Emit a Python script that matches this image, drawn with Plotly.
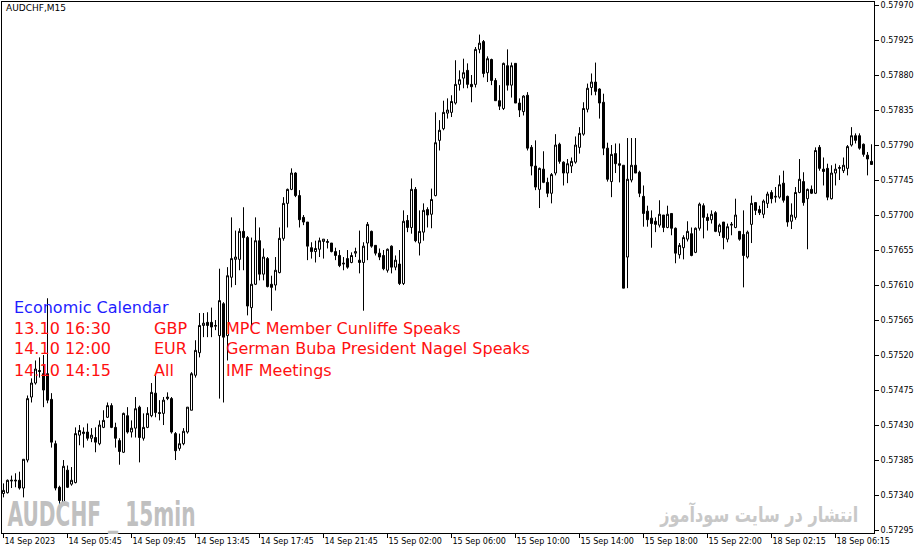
import plotly.graph_objects as go

# ---------------- data (AUDCHF, M15) ----------------
opens = [
 0.57342,0.57343,0.57358,0.57358,0.57359,0.57349,0.57385,0.57466,0.57484,0.57500,
 0.57496,0.57496,0.57463,0.57406,0.57350,0.57331,0.57372,0.57354,0.57356,0.57417,
 0.57419,0.57421,0.57413,0.57414,0.57406,0.57427,0.57440,0.57455,0.57427,0.57410,
 0.57395,0.57442,0.57421,0.57426,0.57453,0.57413,0.57427,0.57442,0.57471,0.57446,
 0.57445,0.57464,0.57464,0.57419,0.57400,0.57406,0.57421,0.57449,0.57494,0.57523,
 0.57558,0.57562,0.57562,0.57557,0.57545,0.57586,0.57545,0.57620,0.57643,0.57643,
 0.57679,0.57671,0.57581,0.57611,0.57667,0.57624,0.57644,0.57611,0.57610,0.57626,
 0.57670,0.57715,0.57733,0.57754,0.57725,0.57697,0.57691,0.57658,0.57653,0.57656,
 0.57666,0.57666,0.57664,0.57653,0.57648,0.57637,0.57644,0.57639,0.57651,0.57642,
 0.57639,0.57664,0.57679,0.57661,0.57651,0.57648,0.57629,0.57660,0.57633,0.57637,
 0.57612,0.57693,0.57684,0.57733,0.57664,0.57678,0.57707,0.57701,0.57725,0.57796,
 0.57811,0.57831,0.57832,0.57844,0.57868,0.57876,0.57886,0.57868,0.57868,0.57913,
 0.57923,0.57883,0.57900,0.57873,0.57847,0.57837,0.57892,0.57867,0.57895,0.57844,
 0.57833,0.57854,0.57787,0.57763,0.57733,0.57759,0.57742,0.57728,0.57754,0.57791,
 0.57768,0.57754,0.57763,0.57768,0.57787,0.57804,0.57836,0.57864,0.57871,0.57862,
 0.57845,0.57786,0.57743,0.57779,0.57766,0.57764,0.57646,0.57745,0.57764,0.57755,
 0.57724,0.57705,0.57696,0.57692,0.57687,0.57700,0.57684,0.57702,0.57683,0.57649,
 0.57658,0.57669,0.57676,0.57652,0.57683,0.57712,0.57697,0.57694,0.57703,0.57678,
 0.57691,0.57669,0.57687,0.57684,0.57679,0.57675,0.57646,0.57688,0.57716,0.57707,
 0.57701,0.57715,0.57729,0.57723,0.57723,0.57741,0.57724,0.57692,0.57697,0.57729,
 0.57743,0.57721,0.57733,0.57728,0.57787,0.57759,0.57760,0.57721,0.57754,0.57760,
 0.57757,0.57760,0.57790,0.57802,0.57802,0.57791,0.57777,0.57769]

highs = [
 0.57355,0.57360,0.57365,0.57368,0.57370,0.57386,0.57468,0.57490,0.57513,0.57517,
 0.57520,0.57593,0.57471,0.57410,0.57352,0.57385,0.57378,0.57376,0.57427,0.57430,
 0.57427,0.57432,0.57426,0.57427,0.57436,0.57449,0.57459,0.57458,0.57433,0.57413,
 0.57446,0.57453,0.57436,0.57466,0.57455,0.57445,0.57453,0.57484,0.57494,0.57462,
 0.57466,0.57472,0.57466,0.57421,0.57419,0.57426,0.57453,0.57498,0.57539,0.57574,
 0.57574,0.57575,0.57581,0.57565,0.57631,0.57588,0.57633,0.57697,0.57680,0.57683,
 0.57710,0.57673,0.57671,0.57697,0.57684,0.57657,0.57646,0.57622,0.57646,0.57684,
 0.57723,0.57734,0.57760,0.57755,0.57732,0.57700,0.57691,0.57665,0.57667,0.57671,
 0.57669,0.57669,0.57664,0.57658,0.57655,0.57646,0.57655,0.57652,0.57658,0.57680,
 0.57665,0.57691,0.57680,0.57661,0.57657,0.57655,0.57657,0.57661,0.57648,0.57655,
 0.57706,0.57700,0.57747,0.57736,0.57706,0.57715,0.57710,0.57734,0.57832,0.57822,
 0.57847,0.57850,0.57854,0.57899,0.57886,0.57901,0.57895,0.57880,0.57916,0.57932,
 0.57925,0.57904,0.57901,0.57876,0.57867,0.57896,0.57913,0.57896,0.57895,0.57850,
 0.57854,0.57858,0.57790,0.57796,0.57761,0.57782,0.57748,0.57754,0.57804,0.57793,
 0.57769,0.57772,0.57774,0.57801,0.57813,0.57845,0.57869,0.57882,0.57896,0.57863,
 0.57856,0.57793,0.57790,0.57792,0.57792,0.57764,0.57799,0.57799,0.57799,0.57757,
 0.57738,0.57712,0.57706,0.57697,0.57719,0.57700,0.57712,0.57702,0.57684,0.57664,
 0.57674,0.57692,0.57684,0.57684,0.57716,0.57715,0.57702,0.57706,0.57705,0.57689,
 0.57691,0.57689,0.57691,0.57721,0.57679,0.57706,0.57680,0.57725,0.57716,0.57712,
 0.57720,0.57730,0.57732,0.57736,0.57751,0.57757,0.57725,0.57715,0.57736,0.57772,
 0.57755,0.57734,0.57738,0.57787,0.57790,0.57774,0.57766,0.57764,0.57766,0.57764,
 0.57774,0.57790,0.57813,0.57805,0.57805,0.57792,0.57781,0.57791]

lows = [
 0.57337,0.57342,0.57349,0.57350,0.57347,0.57337,0.57382,0.57459,0.57482,0.57491,
 0.57453,0.57458,0.57401,0.57346,0.57320,0.57329,0.57349,0.57352,0.57355,0.57404,
 0.57401,0.57410,0.57408,0.57395,0.57404,0.57426,0.57439,0.57426,0.57401,0.57379,
 0.57394,0.57419,0.57414,0.57414,0.57382,0.57410,0.57426,0.57440,0.57440,0.57436,
 0.57430,0.57462,0.57419,0.57385,0.57397,0.57404,0.57419,0.57449,0.57491,0.57517,
 0.57543,0.57543,0.57543,0.57552,0.57464,0.57459,0.57513,0.57607,0.57610,0.57629,
 0.57629,0.57571,0.57558,0.57610,0.57616,0.57616,0.57607,0.57577,0.57603,0.57625,
 0.57667,0.57684,0.57732,0.57723,0.57684,0.57687,0.57642,0.57644,0.57639,0.57646,
 0.57644,0.57657,0.57652,0.57642,0.57633,0.57629,0.57631,0.57638,0.57646,0.57625,
 0.57577,0.57642,0.57658,0.57648,0.57642,0.57629,0.57626,0.57625,0.57629,0.57610,
 0.57610,0.57678,0.57676,0.57665,0.57648,0.57667,0.57684,0.57683,0.57724,0.57783,
 0.57809,0.57824,0.57826,0.57842,0.57860,0.57863,0.57863,0.57845,0.57864,0.57908,
 0.57877,0.57871,0.57867,0.57847,0.57835,0.57835,0.57860,0.57851,0.57844,0.57826,
 0.57828,0.57783,0.57751,0.57732,0.57709,0.57741,0.57723,0.57715,0.57751,0.57766,
 0.57738,0.57741,0.57754,0.57766,0.57779,0.57802,0.57832,0.57854,0.57854,0.57824,
 0.57777,0.57743,0.57723,0.57754,0.57742,0.57606,0.57606,0.57742,0.57754,0.57723,
 0.57685,0.57685,0.57658,0.57678,0.57684,0.57678,0.57683,0.57674,0.57638,0.57644,
 0.57643,0.57666,0.57647,0.57651,0.57680,0.57670,0.57680,0.57689,0.57678,0.57673,
 0.57656,0.57665,0.57674,0.57683,0.57667,0.57607,0.57644,0.57664,0.57700,0.57700,
 0.57696,0.57709,0.57715,0.57716,0.57721,0.57716,0.57685,0.57682,0.57694,0.57728,
 0.57712,0.57656,0.57727,0.57727,0.57757,0.57738,0.57719,0.57720,0.57738,0.57745,
 0.57754,0.57751,0.57788,0.57792,0.57784,0.57775,0.57751,0.57765]

closes = [
 0.57346,0.57359,0.57359,0.57359,0.57349,0.57386,0.57464,0.57484,0.57502,0.57499,
 0.57475,0.57462,0.57408,0.57349,0.57333,0.57377,0.57350,0.57359,0.57419,0.57423,
 0.57421,0.57413,0.57417,0.57408,0.57430,0.57436,0.57455,0.57427,0.57413,0.57396,
 0.57445,0.57421,0.57426,0.57451,0.57414,0.57427,0.57445,0.57472,0.57446,0.57445,
 0.57462,0.57466,0.57421,0.57397,0.57406,0.57422,0.57453,0.57496,0.57526,0.57558,
 0.57561,0.57558,0.57556,0.57558,0.57590,0.57543,0.57622,0.57644,0.57646,0.57679,
 0.57671,0.57583,0.57611,0.57667,0.57624,0.57646,0.57608,0.57607,0.57629,0.57670,
 0.57715,0.57733,0.57754,0.57725,0.57694,0.57691,0.57660,0.57653,0.57657,0.57667,
 0.57669,0.57665,0.57653,0.57648,0.57635,0.57638,0.57633,0.57648,0.57653,0.57639,
 0.57660,0.57688,0.57660,0.57651,0.57646,0.57631,0.57656,0.57633,0.57642,0.57612,
 0.57692,0.57684,0.57733,0.57667,0.57679,0.57706,0.57700,0.57720,0.57793,0.57809,
 0.57832,0.57835,0.57846,0.57868,0.57874,0.57883,0.57868,0.57865,0.57913,0.57921,
 0.57882,0.57901,0.57873,0.57847,0.57840,0.57895,0.57867,0.57892,0.57844,0.57835,
 0.57853,0.57786,0.57763,0.57736,0.57760,0.57742,0.57728,0.57752,0.57790,0.57769,
 0.57754,0.57766,0.57769,0.57790,0.57805,0.57837,0.57863,0.57871,0.57859,0.57844,
 0.57786,0.57746,0.57778,0.57766,0.57764,0.57606,0.57746,0.57764,0.57754,0.57728,
 0.57702,0.57694,0.57689,0.57688,0.57701,0.57684,0.57701,0.57683,0.57651,0.57661,
 0.57671,0.57679,0.57648,0.57683,0.57714,0.57697,0.57693,0.57701,0.57679,0.57687,
 0.57671,0.57685,0.57688,0.57700,0.57669,0.57648,0.57678,0.57715,0.57706,0.57703,
 0.57718,0.57727,0.57721,0.57724,0.57739,0.57719,0.57691,0.57700,0.57729,0.57746,
 0.57716,0.57733,0.57728,0.57783,0.57760,0.57756,0.57723,0.57754,0.57759,0.57761,
 0.57764,0.57788,0.57802,0.57796,0.57786,0.57778,0.57772,0.57765]

bar_index = list(range(len(opens)))

time_tick_bars = [0, 16, 32, 48, 64, 80, 96, 112, 128, 144, 160, 176, 192, 208]
time_tick_labels = ["14 Sep 2023", "14 Sep 05:45", "14 Sep 09:45", "14 Sep 13:45",
                    "14 Sep 17:45", "14 Sep 21:45", "15 Sep 02:00", "15 Sep 06:00",
                    "15 Sep 10:00", "15 Sep 14:00", "15 Sep 18:00", "15 Sep 22:00",
                    "18 Sep 02:15", "18 Sep 06:15"]

price_ticks = [0.57295, 0.57340, 0.57385, 0.57430, 0.57475, 0.57520, 0.57565, 0.57610,
               0.57655, 0.57700, 0.57745, 0.57790, 0.57835, 0.57880, 0.57925, 0.57970]
price_tick_text = ["%.5f" % v for v in price_ticks]

calendar_title = "Economic Calendar"
calendar_times = ["13.10 16:30", "14.10 12:00", "14.10 14:15"]
calendar_currencies = ["GBP", "EUR", "All"]
calendar_events = ["MPC Member Cunliffe Speaks",
                   "German Buba President Nagel Speaks",
                   "IMF Meetings"]

watermark_left = "AUDCHF _ 15min"
watermark_right = "انتشار در سایت سودآموز"

# ---------------- figure ----------------
fig = go.Figure(go.Candlestick(
    x=bar_index, open=opens, high=highs, low=lows, close=closes,
    increasing=dict(fillcolor="white", line=dict(color="black", width=1)),
    decreasing=dict(fillcolor="black", line=dict(color="black", width=1)),
    whiskerwidth=0, showlegend=False, hoverinfo="skip",
))

PL, PR, PT, PB = 2, 874, 2, 533   # plot area in page pixels
W, H = 920, 554


def px(xp):
    return (xp - PL) / (PR - PL)


def py(yp):
    return (PB - yp) / (PB - PT)


ann = []
ann.append(dict(text="AUDCHF,M15", x=px(4), y=py(8), xanchor="left", yanchor="middle",
                font=dict(family="DejaVu Sans", size=9, color="black")))

cal_font = dict(family="DejaVu Sans", size=16)
ann.append(dict(text=calendar_title, x=px(12), y=py(307), xanchor="left", yanchor="middle",
                font=dict(color="#1e1eff", **cal_font)))
row_y = [328, 349, 370]
for t, c, e, yy in zip(calendar_times, calendar_currencies, calendar_events, row_y):
    for txt, xx in ((t, 12), (c, 152), (e, 224)):
        ann.append(dict(text=txt, x=px(xx), y=py(yy), xanchor="left", yanchor="middle",
                        font=dict(color="#ff1010", **cal_font)))

ann.append(dict(text="<b>%s</b>" % watermark_left, x=px(101), y=py(514),
                xanchor="center", yanchor="middle",
                font=dict(family="DejaVu Sans", size=34, color="#c0c0c0")))
ann.append(dict(text="<b>%s</b>" % watermark_right, x=px(759), y=py(514),
                xanchor="center", yanchor="middle",
                font=dict(family="DejaVu Sans", size=21, color="#c8c8c8")))

for a in ann:
    a.update(xref="paper", yref="paper", showarrow=False)

fig.update_layout(
    width=W, height=H,
    margin=dict(l=PL, r=W - PR, t=PT, b=H - PB),
    paper_bgcolor="white", plot_bgcolor="white",
    showlegend=False, boxgap=0.5, boxgroupgap=0, hovermode=False,
    annotations=ann,
    xaxis=dict(
        range=[-0.375, 217.625], rangeslider=dict(visible=False),
        showgrid=False, zeroline=False,
        showline=True, linecolor="black", linewidth=1, mirror=True,
        ticks="outside", ticklen=4, tickcolor="black", tickwidth=1,
        tickvals=time_tick_bars, ticktext=time_tick_labels,
        ticklabelposition="outside right",
        tickfont=dict(family="DejaVu Sans", size=8, color="black"),
    ),
    yaxis=dict(
        side="right", range=[0.572912, 0.579739],
        showgrid=False, zeroline=False,
        showline=True, linecolor="black", linewidth=1, mirror=True,
        ticks="outside", ticklen=4, tickcolor="black", tickwidth=1,
        tickvals=price_ticks, ticktext=price_tick_text,
        tickfont=dict(family="DejaVu Sans", size=8, color="black"),
    ),
)

# squeeze the two wide watermark strings to the reference widths
post = """
document.body.style.margin = '0';
document.body.style.padding = '0';
var fits = {'AUDCHF _ 15min': 188, '%s': 198};
document.querySelectorAll('text.annotation-text').forEach(function(t) {
  var w = fits[t.textContent];
  if (w) { t.setAttribute('textLength', w); t.setAttribute('lengthAdjust', 'spacingAndGlyphs'); }
});
""" % watermark_right

fig.write_html("out.html", post_script=post, config={"displayModeBar": False})
